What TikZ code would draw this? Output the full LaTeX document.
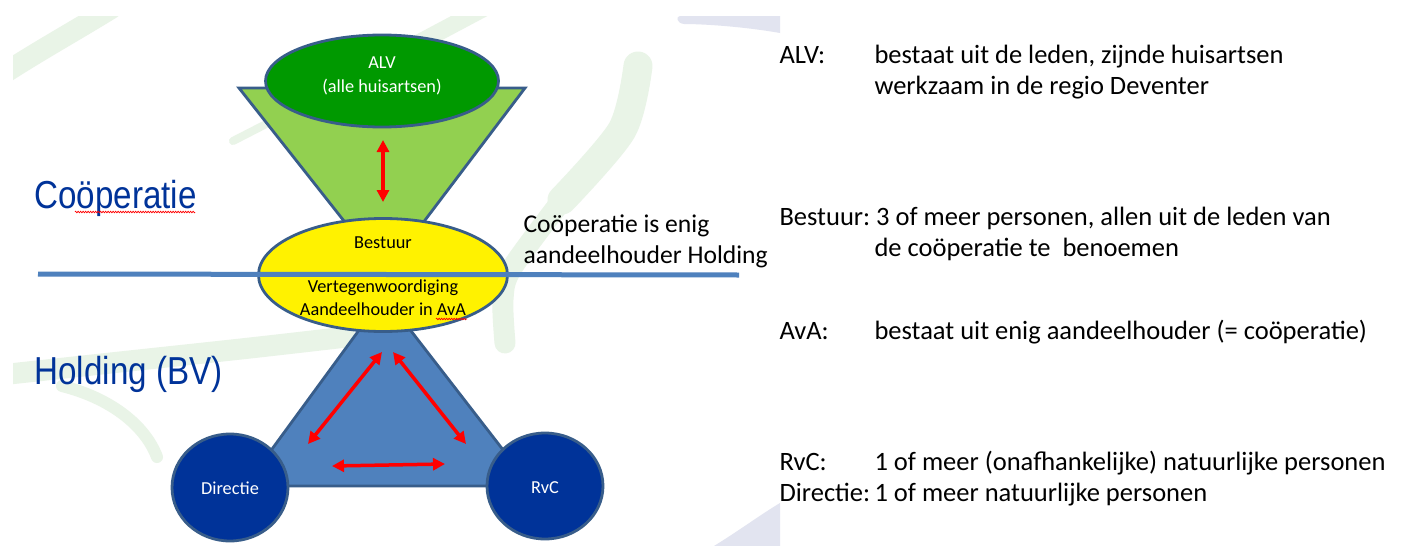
\documentclass[tikz,border=0pt]{standalone}
\usepackage{fontspec}
\setmainfont{Carlito}
\newfontfamily\arialf{Liberation Sans}
\usetikzlibrary{arrows.meta,shapes.geometric,decorations.pathmorphing}

\definecolor{swgreen}{RGB}{233,244,231}
\definecolor{swlav}{RGB}{226,228,240}
\definecolor{funnelgreen}{RGB}{146,208,80}
\definecolor{alvgreen}{RGB}{0,153,0}
\definecolor{shapeedge}{RGB}{56,93,138}
\definecolor{triblue}{RGB}{79,129,189}
\definecolor{circblue}{RGB}{0,51,153}
\definecolor{titleblue}{RGB}{0,51,153}
\definecolor{lineblue}{RGB}{79,129,189}

\tikzset{
  shapeline/.style={draw=shapeedge, line width=2.8pt},
  ellnode/.style={ellipse, shapeline, inner sep=0pt, outer sep=0pt},
  redarrow/.style={draw=red, line width=3.5pt, {Triangle[length=12pt,width=12pt]}-{Triangle[length=12pt,width=12pt]}},
  swband/.style={draw=swgreen, line cap=round},
  intext/.style={anchor=base, font=\fontsize{18.3}{22}\selectfont},
  sidetext/.style={anchor=base west, font=\fontsize{26.5}{31}\selectfont},
  midtext/.style={anchor=base west, font=\fontsize{25.6}{31}\selectfont},
  bigtitle/.style={anchor=base west, text=titleblue, font=\arialf\fontsize{39}{44}\selectfont},
  spell/.style={draw=red, line width=0.7pt, decorate, decoration={zigzag, segment length=2.5pt, amplitude=0.8pt}}
}

\begin{document}
\begin{tikzpicture}[x=1pt,y=-1pt]
\useasboundingbox (0,0) rectangle (1403,546);
\fill[white] (0,0) rectangle (1403,546);

% faint background swooshes of the slide
\begin{scope}
\clip (13,16) rectangle (780,546);
\draw[swband, line width=21pt] (0,76) .. controls (40,50) and (80,28) .. (112,8);
\draw[swband, line width=8pt] (233,141) -- (272,121);
\draw[swband, line width=17pt] (330,90) -- (490,5);
\draw[swband, line width=29pt] plot[smooth] coordinates {(638,66) (622,130) (562,200)};
\draw[swband, line width=21pt] plot[smooth] coordinates {(566,195) (512,268) (503,299) (505,343)};
\draw[swband, line width=21pt, line cap=butt] plot[smooth] coordinates {(0,375) (120,362) (250,348) (355,336)};
\draw[swband, line width=12pt] (62,386) .. controls (110,398) and (145,425) .. (157,457);
\fill[swlav] (680,16) -- (780,16) -- (780,33) .. controls (740,26) and (700,24) .. (684,24) .. controls (676,23) and (676,16) .. (680,16) -- cycle;
\fill[swlav] (780,503) -- (780,546) -- (714,546) .. controls (740,530) and (760,515) .. (780,503) -- cycle;
\end{scope}

% Cooperatie part
\path[shapeline, fill=funnelgreen] (239,88) -- (525,88) -- (410,240) -- (359,240) -- cycle;
\node[ellnode, fill=alvgreen, minimum width=233pt, minimum height=92pt] (alv) at (382,81) {};
\node[intext, text=white] (alvt1) at (382,68) {ALV};
\node[intext, text=white] (alvt2) at (382,92) {(alle huisartsen)};

% Holding triangle
\path[draw=shapeedge, line width=2.8pt, fill=triblue] (384,296) -- (531,486) -- (245,486) -- cycle;

% Bestuur ellipse
\node[ellnode, fill=yellow, minimum width=249pt, minimum height=113pt] (bestuur) at (383,275) {};
\node[intext] (bt1) at (383,248) {Bestuur};
\node[intext] (bt2) at (383,292) {Vertegenwoordiging};
\node[intext] (bt3) at (383,315) {Aandeelhouder in AvA};
\draw[spell] (436,319) -- (467,319);

% dividing line
\coordinate (divL) at (38,274);
\coordinate (divR) at (739,275);
\draw[draw=lineblue, line width=5pt] (divL) -- (divR);

% circles
\node[ellnode, fill=circblue, minimum width=116pt, minimum height=107pt] (directie) at (230,487.5) {};
\node[intext, text=white] (dirt) at (230,494) {Directie};
\node[ellnode, fill=circblue, minimum width=116pt, minimum height=106pt] (rvc) at (545,486) {};
\node[intext, text=white] (rvct) at (545,493) {RvC};

% red arrows
\coordinate (a1) at (383,140); \coordinate (a2) at (383,202);
\draw[redarrow] (a1) -- (a2);
\coordinate (l1) at (382,352); \coordinate (l2) at (308,444);
\draw[redarrow] (l1) -- (l2);
\coordinate (r1) at (393,352); \coordinate (r2) at (466,444);
\draw[redarrow] (r1) -- (r2);
\coordinate (h1) at (332,466); \coordinate (h2) at (445,464);
\draw[redarrow] (h1) -- (h2);

% left titles
\node[bigtitle] (coop) at (31,208) {\scalebox{0.85}[1]{Coöperatie}};
\draw[spell] (75,212) -- (195,212);
\node[bigtitle] (hold) at (31,384) {\scalebox{0.85}[1]{Holding (BV)}};

% middle text
\node[midtext] (mid1) at (520,232) {Coöperatie is enig};
\node[midtext] (mid2) at (520,263) {aandeelhouder Holding};

% right column
\node[sidetext] (l_alv) at (776,63) {ALV:};
\node[sidetext] (v_alv1) at (871,63) {bestaat uit de leden, zijnde huisartsen};
\node[sidetext] (v_alv2) at (871,94) {werkzaam in de regio Deventer};
\node[sidetext] (l_best) at (776,225) {Bestuur:\hspace{-2pt} 3 of meer personen, allen uit de leden van};
\node[sidetext] (v_best2) at (871,256) {de coöperatie te~ benoemen};
\node[sidetext] (l_ava) at (776,339) {AvA:};
\node[sidetext] (v_ava) at (871,339) {bestaat uit enig aandeelhouder (= coöperatie)};
\node[sidetext] (l_rvc) at (776,470) {RvC:};
\node[sidetext] (v_rvc) at (871,470) {1 of meer (onafhankelijke) natuurlijke personen};
\node[sidetext] (l_dir) at (776,501) {Directie:};
\node[sidetext] (v_dir) at (871,501) {1 of meer natuurlijke personen};
\end{tikzpicture}
\end{document}
